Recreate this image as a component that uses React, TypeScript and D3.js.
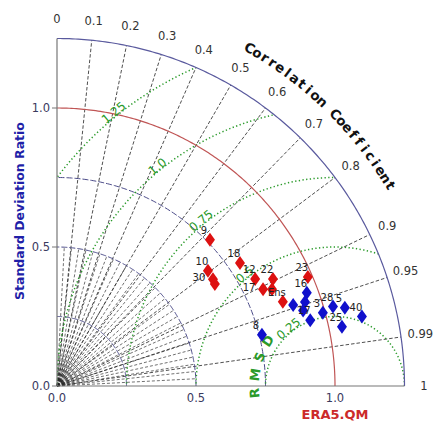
import React from "react";
import * as d3 from "d3";

// ---------- data ----------
const corrTicks = [0, 0.1, 0.2, 0.3, 0.4, 0.5, 0.6, 0.7, 0.8, 0.9, 0.95, 0.99, 1];
const corrTickLabels = ["0", "0.1", "0.2", "0.3", "0.4", "0.5", "0.6", "0.7", "0.8", "0.9", "0.95", "0.99", "1"];
const corrLines = [0.1, 0.2, 0.3, 0.4, 0.5, 0.6, 0.7, 0.8, 0.9, 0.95, 0.99];
const minorAnglesDeg = [3, 6, 9, 12, 15, 18, 21, 24, 27, 30, 33, 36, 39, 42, 45, 48, 51, 54, 57, 60, 63, 66, 69, 72, 75, 78, 81, 84, 87];
const stdTicks = [0, 0.5, 1.0];
const stdTickLabels = ["0.0", "0.5", "1.0"];
const stdCircles = [0.25, 0.5, 0.75];
const stdMax = 1.25;
const stdObs = 1.0;
const rmsTicks = [0.25, 0.5, 0.75, 1.0, 1.25];
const rmsTickLabels = ["0.25", "0.5", "0.75", "1.0", "1.25"];

const redLabels = ["9", "18", "10", "30", "", "12", "17", "22", "", "23", "Ens"];
const redStd = [0.761, 0.793, 0.683, 0.68, 0.676, 0.81, 0.819, 0.867, 0.848, 0.984, 0.867];
const redCorr = [0.723, 0.83, 0.795, 0.825, 0.84, 0.88, 0.905, 0.896, 0.912, 0.917, 0.937];

const blueLabels = ["16", "", "", "", "17", "3", "28", "5", "40", "25", "8"];
const blueStd = [0.959, 0.942, 0.898, 0.926, 0.941, 0.992, 1.033, 1.073, 1.125, 1.047, 0.76];
const blueCorr = [0.937, 0.947, 0.946, 0.956, 0.968, 0.964, 0.961, 0.965, 0.975, 0.979, 0.97];

const corrTitle = "Correlation Coefficient";
const rmsTitle = "RMSD";

// ---------- layout ----------
const W = 435;
const H = 423;
const X0 = 57;
const Y0 = 386;
const PX = 278; // px per unit
const FONT = "DejaVu Sans";

const xs = d3.scaleLinear().domain([0, stdMax]).range([X0, X0 + stdMax * PX]);
const ys = d3.scaleLinear().domain([0, stdMax]).range([Y0, Y0 - stdMax * PX]);

const polar = (r: number, th: number): [number, number] => [xs(r * Math.cos(th)), ys(r * Math.sin(th))];
const fromCorr = (std: number, c: number): [number, number] => polar(std, Math.acos(c));

const lineGen = d3.line<[number, number]>().x((d) => d[0]).y((d) => d[1]);

const arcPath = (r: number, cxData = 0, a0 = 0, a1 = Math.PI / 2) => {
  const pts: [number, number][] = d3.range(0, 181).map((i) => {
    const a = a0 + ((a1 - a0) * i) / 180;
    return [xs(cxData + r * Math.cos(a)), ys(r * Math.sin(a))];
  });
  return lineGen(pts) || "";
};

const diamond = "M0,-7 L5,0 L0,7 L-5,0 Z";

// label placement: up-left of the marker by default, other candidate spots if it would collide
const candidates: [number, number][] = [
  [-6, -6],
  [-14, 2],
  [1, -9],
  [-10, 13],
  [9, -4],
];
const placeLabels = (groups: { std: number[]; corr: number[]; labels: string[] }[]) => {
  const boxes: [number, number, number, number][] = [];
  const box = (lx: number, ly: number, w: number): [number, number, number, number] => [lx - w / 2, ly - 9, lx + w / 2, ly + 3];
  return groups.map((g) =>
    g.std.map((s, i) => {
      const [x, y] = fromCorr(s, g.corr[i]);
      const text = g.labels[i];
      const w = text.length * 6.6;
      let best: [number, number] = [x + candidates[0][0], y + candidates[0][1]];
      if (!text) return best;
      for (const [dx, dy] of candidates) {
        const b = box(x + dx, y + dy, w);
        const hit = boxes.some((o) => b[0] < o[2] && b[2] > o[0] && b[1] < o[3] && b[3] > o[1]);
        if (!hit) {
          best = [x + dx, y + dy];
          break;
        }
      }
      boxes.push(box(best[0], best[1], w));
      return best;
    })
  );
};

export default function App() {
  const clipD =
    `M${xs(0)},${ys(0)} L${xs(stdMax)},${ys(0)} ` +
    arcPath(stdMax).replace(/^M/, "L") +
    " Z";

  const rmsDeg = 129;
  const green = "#2a9a2a";

  const corrTitleAngles = d3.range(corrTitle.length).map((i) => 60.3 - (i * (60.3 - 31)) / (corrTitle.length - 1));
  const rmsTitleAngles = d3.range(rmsTitle.length).map((i) => 185 - (i * (185 - 146)) / (rmsTitle.length - 1));

  const [redLab, blueLab] = placeLabels([
    { std: redStd, corr: redCorr, labels: redLabels },
    { std: blueStd, corr: blueCorr, labels: blueLabels },
  ]);

  return (
    <svg
      width={W}
      height={H}
      style={{ position: "absolute", left: 0, top: 0, background: "#fff" }}
      fontFamily={FONT}
    >
      <defs>
        <clipPath id="quarter">
          <path d={clipD} />
        </clipPath>
      </defs>
      <rect x={0} y={0} width={W} height={H} fill="#fff" />

      {/* minor correlation lines near origin */}
      {minorAnglesDeg.map((a, i) => {
        const th = (a * Math.PI) / 180;
        const [x1, y1] = polar(0.5, th);
        return (
          <line key={"mn" + i} x1={xs(0)} y1={ys(0)} x2={x1} y2={y1} stroke="#333" strokeWidth={0.7} strokeDasharray="3,2" />
        );
      })}

      {/* correlation lines */}
      {corrLines.map((c, i) => {
        const [x1, y1] = fromCorr(stdMax, c);
        return (
          <line key={"cl" + i} x1={xs(0)} y1={ys(0)} x2={x1} y2={y1} stroke="#222" strokeWidth={0.8} strokeDasharray="3.5,2" />
        );
      })}

      {/* std circles */}
      {stdCircles.map((s, i) => (
        <path key={"sc" + i} d={arcPath(s)} fill="none" stroke="#4a4a88" strokeWidth={1} strokeDasharray="6,2" />
      ))}

      {/* rms circles */}
      <g clipPath="url(#quarter)">
        {rmsTicks.map((r, i) => (
          <path
            key={"rc" + i}
            d={arcPath(r, stdObs, 0, Math.PI)}
            fill="none"
            stroke={green}
            strokeWidth={1.5}
            strokeDasharray="1.3,2.4"
          />
        ))}
      </g>

      {/* observed std arc */}
      <path d={arcPath(stdObs)} fill="none" stroke="#c05555" strokeWidth={1.2} />
      {/* outer arc */}
      <path d={arcPath(stdMax)} fill="none" stroke="#5a5a9e" strokeWidth={1.2} />

      {/* axes */}
      <line x1={xs(0)} y1={ys(0)} x2={xs(0)} y2={ys(stdMax)} stroke="#777" strokeWidth={1.2} />
      <line x1={xs(0)} y1={ys(0)} x2={xs(stdMax)} y2={ys(0)} stroke="#777" strokeWidth={1.2} />

      {stdTicks.map((t, i) => (
        <g key={"st" + i}>
          <line x1={xs(0) - 5} x2={xs(0)} y1={ys(t)} y2={ys(t)} stroke="#777" strokeWidth={1} />
          <text x={xs(0) - 7} y={ys(t)} textAnchor="end" dominantBaseline="central" fontSize={11.5} fill="#3a3a5e">
            {stdTickLabels[i]}
          </text>
          <text x={xs(t)} y={ys(0) + 12} textAnchor="middle" dominantBaseline="central" fontSize={11.5} fill="#3a3a5e">
            {stdTickLabels[i]}
          </text>
        </g>
      ))}

      {/* correlation tick labels */}
      {corrTicks.map((c, i) => {
        const [x, y] = fromCorr(1.32, c);
        return (
          <text key={"ct" + i} x={x} y={y} textAnchor="middle" dominantBaseline="central" fontSize={11.5} fill="#333">
            {corrTickLabels[i]}
          </text>
        );
      })}

      {/* correlation title */}
      {corrTitle.split("").map((ch, i) => {
        const a = corrTitleAngles[i];
        const [x, y] = polar(1.4, (a * Math.PI) / 180);
        return (
          <text
            key={"ctt" + i}
            x={x}
            y={y}
            textAnchor="middle"
            dominantBaseline="central"
            fontSize={13.5}
            fontWeight="bold"
            fill="#111"
            transform={`rotate(${90 - a},${x},${y})`}
          >
            {ch}
          </text>
        );
      })}

      {/* rms tick labels */}
      {rmsTicks.map((r, i) => {
        const th = (rmsDeg * Math.PI) / 180;
        const x = xs(stdObs + (r + 0.015) * Math.cos(th));
        const y = ys((r + 0.015) * Math.sin(th));
        return (
          <text
            key={"rt" + i}
            x={x}
            y={y}
            textAnchor="middle"
            dominantBaseline="central"
            fontSize={12}
            fill={green}
            transform={`rotate(${-(rmsDeg - 90)},${x},${y})`}
          >
            {rmsTickLabels[i]}
          </text>
        );
      })}

      {/* rms title */}
      {rmsTitle.split("").map((ch, i) => {
        const a = rmsTitleAngles[i];
        const th = (a * Math.PI) / 180;
        const x = xs(stdObs + 0.29 * Math.cos(th));
        const y = ys(0.29 * Math.sin(th));
        return (
          <text
            key={"rtt" + i}
            x={x}
            y={y}
            textAnchor="middle"
            dominantBaseline="central"
            fontSize={13}
            fontWeight="bold"
            fill={green}
            transform={`rotate(${-(a - 90)},${x},${y})`}
          >
            {ch}
          </text>
        );
      })}

      {/* markers */}
      {redStd.map((s, i) => {
        const [x, y] = fromCorr(s, redCorr[i]);
        return <path key={"rm" + i} d={diamond} transform={`translate(${x},${y})`} fill="#dd1111" />;
      })}
      {blueStd.map((s, i) => {
        const [x, y] = fromCorr(s, blueCorr[i]);
        return <path key={"bm" + i} d={diamond} transform={`translate(${x},${y})`} fill="#1010cc" />;
      })}
      {redLab.map(([x, y], i) => (
        <text key={"rl" + i} x={x} y={y} textAnchor="middle" fontSize={10} fill="#222">
          {redLabels[i]}
        </text>
      ))}
      {blueLab.map(([x, y], i) => (
        <text key={"bl" + i} x={x} y={y} textAnchor="middle" fontSize={10} fill="#222">
          {blueLabels[i]}
        </text>
      ))}

      {/* axis titles */}
      <text
        x={19}
        y={211}
        textAnchor="middle"
        dominantBaseline="central"
        fontSize={12.5}
        fontWeight="bold"
        fill="#1f1fa8"
        transform="rotate(-90,19,211)"
      >
        Standard Deviation Ratio
      </text>
      <text x={xs(stdObs)} y={414} textAnchor="middle" dominantBaseline="central" fontSize={13} fontWeight="bold" fill="#cc2a2a">
        ERA5.QM
      </text>
    </svg>
  );
}
